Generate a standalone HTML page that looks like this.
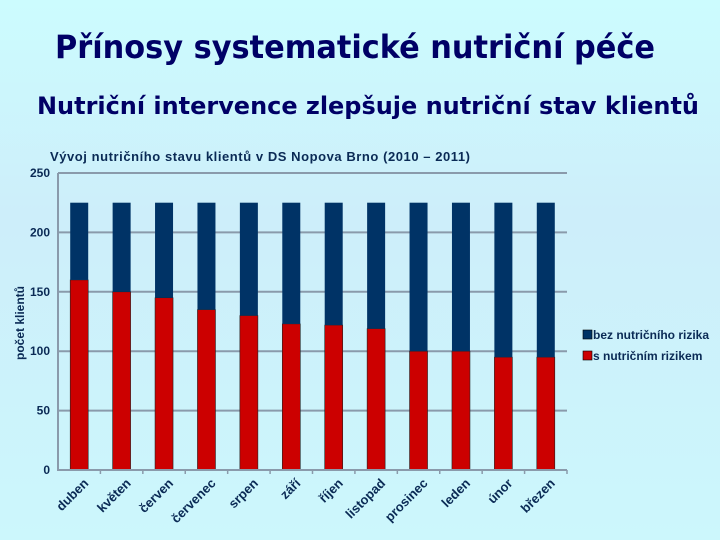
<!DOCTYPE html>
<html><head><meta charset="utf-8"><style>
body{margin:0;width:720px;height:540px;overflow:hidden;background:#cdf6fc;}
svg{display:block;font-family:"Liberation Sans","DejaVu Sans",sans-serif;}
</style></head><body>
<svg id="c" width="720" height="540">
<defs><linearGradient id="bg" x1="0" y1="0" x2="0" y2="1"><stop offset="0" stop-color="#ccfcfe"/><stop offset="0.4" stop-color="#cdeefa"/><stop offset="1" stop-color="#ccf7fc"/></linearGradient></defs>
<rect width="720" height="540" fill="url(#bg)"/>
<text x="355" y="58" text-anchor="middle" font-family="DejaVu Sans Condensed,DejaVu Sans,sans-serif" font-weight="bold" font-size="32" fill="#000066" textLength="600" lengthAdjust="spacingAndGlyphs">Přínosy systematické nutriční péče</text>
<text x="368" y="114" text-anchor="middle" font-family="DejaVu Sans Condensed,DejaVu Sans,sans-serif" font-weight="bold" font-size="24" fill="#000066" textLength="662" lengthAdjust="spacingAndGlyphs">Nutriční intervence zlepšuje nutriční stav klientů</text>
<text x="50" y="161" font-size="13" font-weight="bold" fill="#0a2a55" textLength="420">Vývoj nutričního stavu klientů v DS Nopova Brno (2010 – 2011)</text>
<text transform="translate(24,323) rotate(-90)" text-anchor="middle" font-size="12" font-weight="bold" fill="#0a2a55">počet klientů</text>
<g id="grid"></g><g id="bars"></g><g id="axes"></g>
<g>
<rect x="583" y="330" width="9" height="9" fill="#003366" stroke="#000" stroke-width="0.6"/>
<text x="593" y="339" font-size="12" font-weight="bold" fill="#0a2a55">bez nutričního rizika</text>
<rect x="583" y="351" width="9" height="9" fill="#cc0000" stroke="#000" stroke-width="0.6"/>
<text x="593" y="360" font-size="12" font-weight="bold" fill="#0a2a55">s nutričním rizikem</text>
</g>
</svg>
<script>
const categories=["duben","květen","červen","červenec","srpen","září","říjen","listopad","prosinec","leden","únor","březen"];
const riskValues=[160,150,145,135,130,123,122,119,100,100,95,95];
const noRiskValues=[65,75,80,90,95,102,103,106,125,125,130,130];
const yTicks=[0,50,100,150,200,250];
const X0=58,X1=567,Y0=470,Y1=173,YMAX=250;
const bw=(X1-X0)/categories.length;
function y(v){return Y0-(v/YMAX)*(Y0-Y1);}
function xc(i){return X0+bw*(i+0.5);}
const NS="http://www.w3.org/2000/svg";
function mk(t,a,p){const e=document.createElementNS(NS,t);for(const k in a)e.setAttribute(k,a[k]);p.appendChild(e);return e;}
const grid=document.getElementById('grid'),bars=document.getElementById('bars'),axes=document.getElementById('axes');
yTicks.forEach(v=>{
 if(v>0){const l=mk('line',{x1:X0,x2:X1,y1:y(v),y2:y(v),stroke:'#8a9aab','stroke-width':2},grid);
 
 }
 const t=mk('text',{x:X0-8,y:y(v)+4,'text-anchor':'end','font-size':12,'font-weight':'bold',fill:'#0a2a55'},axes);
 t.textContent=v;
 
 
});
const ax=mk('path',{d:`M${X0},${Y1}V${Y0}H${X1}`,stroke:'#8a9aab','stroke-width':2,fill:'none'},axes);


categories.forEach((c,i)=>{
 const cx=xc(i),w=18;
 const r=mk('rect',{x:cx-w/2,y:y(riskValues[i]),width:w,height:Y0-y(riskValues[i]),fill:'#cc0000',stroke:'#222','stroke-width':0.6},bars);
 
 
 const top=riskValues[i]+noRiskValues[i];
 const b=mk('rect',{x:cx-w/2,y:y(top),width:w,height:y(riskValues[i])-y(top),fill:'#003366'},bars);
 
 
 const tk=mk('line',{x1:X0+bw*(i+1),x2:X0+bw*(i+1),y1:Y0,y2:Y0+4,stroke:'#8a9aab','stroke-width':1.5},axes);
 
 
 const t=mk('text',{x:cx+10,y:Y0+14,'text-anchor':'end','font-size':13,'font-weight':'bold',fill:'#0a2a55',transform:`rotate(-45 ${cx+10} ${Y0+14})`},axes);
 t.textContent=c;
 
 
});
</script>
</body></html>
